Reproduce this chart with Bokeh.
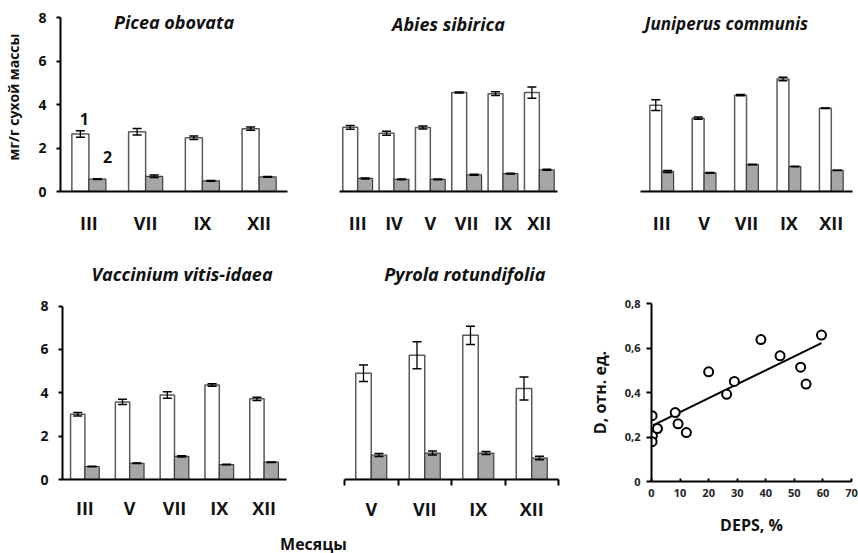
from bokeh.plotting import figure
from bokeh.models import (Range1d, FactorRange, ColumnDataSource, Label, FixedTicker,
                          LinearAxis, CategoricalAxis)
from bokeh.transform import dodge
from bokeh.layouts import row, column
from bokeh.embed import file_html
from bokeh.resources import INLINE

FONT = "Open Sans"

# ---------------- data ----------------
picea_months = ["III", "VII", "IX", "XII"]
picea_total = [2.64, 2.75, 2.47, 2.89]
picea_total_err = [0.15, 0.15, 0.08, 0.07]
picea_part = [0.57, 0.70, 0.49, 0.67]
picea_part_err = [0.02, 0.06, 0.02, 0.02]

abies_months = ["III", "IV", "V", "VII", "IX", "XII"]
abies_total = [2.95, 2.68, 2.94, 4.55, 4.50, 4.55]
abies_total_err = [0.09, 0.09, 0.07, 0.02, 0.09, 0.26]
abies_part = [0.60, 0.56, 0.56, 0.77, 0.82, 1.00]
abies_part_err = [0.02, 0.02, 0.02, 0.02, 0.02, 0.02]

juni_months = ["III", "V", "VII", "IX", "XII"]
juni_total = [3.97, 3.37, 4.43, 5.17, 3.83]
juni_total_err = [0.25, 0.05, 0.03, 0.08, 0.01]
juni_part = [0.92, 0.86, 1.24, 1.15, 0.97]
juni_part_err = [0.05, 0.01, 0.01, 0.01, 0.01]

vacc_months = ["III", "V", "VII", "IX", "XII"]
vacc_total = [3.01, 3.58, 3.90, 4.36, 3.72]
vacc_total_err = [0.08, 0.12, 0.15, 0.06, 0.08]
vacc_part = [0.60, 0.75, 1.07, 0.69, 0.80]
vacc_part_err = [0.01, 0.01, 0.03, 0.01, 0.01]

pyr_months = ["V", "VII", "IX", "XII"]
pyr_total = [4.90, 5.73, 6.65, 4.20]
pyr_total_err = [0.38, 0.62, 0.42, 0.53]
pyr_part = [1.13, 1.22, 1.22, 0.99]
pyr_part_err = [0.07, 0.09, 0.07, 0.08]

deps = [0.2, 0.3, 0.2, 2.1, 8.3, 9.3, 12.2, 20.0, 26.3, 29.0, 38.3, 45.0, 52.2, 54.1, 59.5]
d_val = [0.296, 0.206, 0.179, 0.238, 0.31, 0.259, 0.22, 0.493, 0.392, 0.45, 0.638, 0.565, 0.514, 0.438, 0.658]
trend_x = [0.5, 59.5]
trend_y = [0.252, 0.622]

bar_ticks = [0, 2, 4, 6, 8]
d_ticks = [0, 0.2, 0.4, 0.6, 0.8]
d_tick_labels = ["0", "0,2", "0,4", "0,6", "0,8"]
deps_ticks = [0, 10, 20, 30, 40, 50, 60, 70]

WHITE_LINE = "#5a5a5a"
GRAY_FILL = "#a6a6a6"
GRAY_LINE = "#404040"
TXT = "#111111"


def style_common(p):
    p.xgrid.visible = False
    p.ygrid.visible = False
    p.outline_line_color = None
    p.background_fill_color = "white"
    p.border_fill_color = "white"


def style_cat_labels(ax, standoff):
    ax.major_label_text_font = FONT
    ax.major_label_text_font_size = "18px"
    ax.major_label_text_font_style = "bold"
    ax.major_label_text_color = TXT
    ax.major_label_standoff = standoff


def bar_panel(months, tot, tot_err, part, part_err, title, width, height,
              left, right, top, bottom, bw, title_x, title_y, show_y,
              ymax=8.0, cat_standoff=13, boundary_ticks=False, title_size="18px"):
    n = len(months)
    if boundary_ticks:
        xr = Range1d(0, n)
    else:
        xr = FactorRange(factors=months, range_padding=0, factor_padding=0)
    p = figure(width=width, height=height, output_backend="svg", toolbar_location=None,
               x_range=xr, y_range=Range1d(0, ymax),
               min_border_left=left, min_border_right=right,
               min_border_top=top, min_border_bottom=bottom,
               x_axis_location=None)
    style_common(p)
    src = ColumnDataSource(dict(
        m=months, xi=[i + 0.5 for i in range(n)], a=tot, b=part,
        a_lo=[v - e for v, e in zip(tot, tot_err)],
        a_hi=[v + e for v, e in zip(tot, tot_err)],
        b_lo=[v - e for v, e in zip(part, part_err)],
        b_hi=[v + e for v, e in zip(part, part_err)],
    ))
    key = "xi" if boundary_ticks else "m"
    xa = dodge(key, -bw / 2, range=p.x_range)
    xb = dodge(key, bw / 2, range=p.x_range)
    p.vbar(x=xa, top="a", width=bw, fill_color="white", line_color=WHITE_LINE,
           line_width=1.5, source=src)
    p.vbar(x=xb, top="b", width=bw, fill_color=GRAY_FILL, line_color=GRAY_LINE,
           line_width=1.2, source=src)
    for x, lo, hi in ((xa, "a_lo", "a_hi"), (xb, "b_lo", "b_hi")):
        p.segment(x0=x, y0=lo, x1=x, y1=hi, line_color="black", line_width=1.3, source=src)
        p.scatter(x=x, y=hi, marker="dash", size=9, line_color="black", line_width=1.5, source=src)
        p.scatter(x=x, y=lo, marker="dash", size=9, line_color="black", line_width=1.5, source=src)

    if boundary_ticks:
        tick_ax = LinearAxis(ticker=FixedTicker(ticks=list(range(n + 1))),
                             major_tick_in=0, major_tick_out=6, major_tick_line_width=2,
                             axis_line_width=2, minor_tick_line_color=None,
                             major_label_text_font_size="1px", major_label_standoff=0,
                             major_label_overrides={i: "" for i in range(n + 1)})
        p.add_layout(tick_ax, "below")
        lab_ax = LinearAxis(ticker=FixedTicker(ticks=[i + 0.5 for i in range(n)]),
                            axis_line_color=None, major_tick_line_color=None,
                            minor_tick_line_color=None,
                            major_label_overrides={i + 0.5: m for i, m in enumerate(months)})
        style_cat_labels(lab_ax, cat_standoff)
        p.add_layout(lab_ax, "below")
    else:
        cat_ax = CategoricalAxis(axis_line_width=2, major_tick_line_color=None,
                                 minor_tick_line_color=None)
        style_cat_labels(cat_ax, cat_standoff)
        p.add_layout(cat_ax, "below")

    if show_y:
        ya = p.yaxis[0]
        ya.ticker = FixedTicker(ticks=bar_ticks)
        ya.bounds = (0, 8)
        ya.axis_line_width = 2
        ya.major_tick_line_width = 2
        ya.major_tick_in = 0
        ya.major_tick_out = 4
        ya.minor_tick_line_color = None
        ya.major_label_text_font = FONT
        ya.major_label_text_font_size = "14px"
        ya.major_label_text_font_style = "bold"
        ya.major_label_text_color = TXT
        ya.major_label_standoff = 10
    else:
        p.yaxis.visible = False

    p.add_layout(Label(x=title_x, y=title_y, text=title, text_align="center",
                       text_baseline="middle", text_font=FONT, text_font_size=title_size,
                       text_font_style="bold italic", text_color=TXT))
    return p


# ---------------- top row ----------------
TY = 189 / 174 * 8  # 0..8 spans 174 px of a 189 px frame
f1 = bar_panel(picea_months, picea_total, picea_total_err, picea_part, picea_part_err,
               "Picea obovata", 290, 250, 60, 3, 2, 59, 0.30, 2.0, 7.8, True, ymax=TY)
f1.yaxis[0].axis_label = "мг/г сухой массы"
f1.yaxis[0].axis_label_text_font = FONT
f1.yaxis[0].axis_label_text_font_size = "14px"
f1.yaxis[0].axis_label_text_font_style = "bold"
f1.yaxis[0].axis_label_text_color = TXT
f1.yaxis[0].axis_label_standoff = 12
f1.add_layout(Label(x=0.42, y=3.34, text="1", text_align="center", text_baseline="middle",
                    text_font=FONT, text_font_size="16px", text_font_style="bold",
                    text_color=TXT))
f1.add_layout(Label(x=0.83, y=1.6, text="2", text_align="center", text_baseline="middle",
                    text_font=FONT, text_font_size="16px", text_font_style="bold",
                    text_color=TXT))

f2 = bar_panel(abies_months, abies_total, abies_total_err, abies_part, abies_part_err,
               "Abies sibirica", 290, 250, 49, 23, 2, 59, 0.41, 3.0, 7.72, False, ymax=TY)
f3 = bar_panel(juni_months, juni_total, juni_total_err, juni_part, juni_part_err,
               "Juniperus  communis", 278, 250, 60, 6, 2, 59, 0.28, 2.08, 7.72, False,
               ymax=TY, title_size="17px")

# ---------------- bottom row ----------------
BY = 221 / 175 * 8  # 0..8 spans 175 px of a 221 px frame
f4 = bar_panel(vacc_months, vacc_total, vacc_total_err, vacc_part, vacc_part_err,
               "Vaccinium  vitis-idaea", 310, 273, 62, 24, 10, 42, 0.32, 2.72, 9.46, True,
               ymax=BY, cat_standoff=10)
f5 = bar_panel(pyr_months, pyr_total, pyr_total_err, pyr_part, pyr_part_err,
               "Pyrola rotundifolia", 270, 273, 34, 22, 10, 42, 0.29, 2.25, 9.5, False,
               ymax=BY, cat_standoff=5, boundary_ticks=True)

flab = figure(width=580, height=30, output_backend="svg", toolbar_location=None,
              x_range=Range1d(0, 580), y_range=Range1d(0, 30), min_border=0)
style_common(flab)
flab.xaxis.visible = False
flab.yaxis.visible = False
flab.add_layout(Label(x=313, y=10, text="Месяцы", text_align="center", text_baseline="middle",
                      text_font=FONT, text_font_size="16px", text_font_style="bold",
                      text_color=TXT))

# scatter panel
f6 = figure(width=278, height=303, output_backend="svg", toolbar_location=None,
            x_range=Range1d(0, 70), y_range=Range1d(0, 0.8),
            min_border_left=71, min_border_right=7, min_border_top=53, min_border_bottom=72)
style_common(f6)
f6.line(trend_x, trend_y, line_color="black", line_width=2)
f6.scatter(deps, d_val, marker="circle", size=9, fill_color="white", line_color="black",
           line_width=2)
xa6 = f6.xaxis[0]
xa6.ticker = FixedTicker(ticks=deps_ticks)
xa6.axis_line_width = 2
xa6.major_tick_line_width = 2
xa6.major_tick_in = 3
xa6.major_tick_out = 0
xa6.minor_tick_line_color = None
xa6.major_label_standoff = 7
xa6.axis_label = "DEPS, %"
xa6.axis_label_standoff = 14
ya6 = f6.yaxis[0]
ya6.ticker = FixedTicker(ticks=d_ticks)
ya6.major_label_overrides = {t: s for t, s in zip(d_ticks, d_tick_labels)}
ya6.axis_line_width = 2
ya6.major_tick_line_width = 2
ya6.major_tick_in = 0
ya6.major_tick_out = 5
ya6.minor_tick_line_color = None
ya6.major_label_standoff = 6
ya6.axis_label = "D, отн. ед."
ya6.axis_label_standoff = 11
for ax in (xa6, ya6):
    ax.major_label_text_font = FONT
    ax.major_label_text_font_size = "11px"
    ax.major_label_text_font_style = "bold"
    ax.major_label_text_color = "#222222"
    ax.axis_label_text_font = FONT
    ax.axis_label_text_font_size = "16px"
    ax.axis_label_text_font_style = "bold"
    ax.axis_label_text_color = TXT

layout = column(row(f1, f2, f3), row(column(row(f4, f5), flab), f6))

open("out.html", "w").write(file_html(layout, INLINE))
